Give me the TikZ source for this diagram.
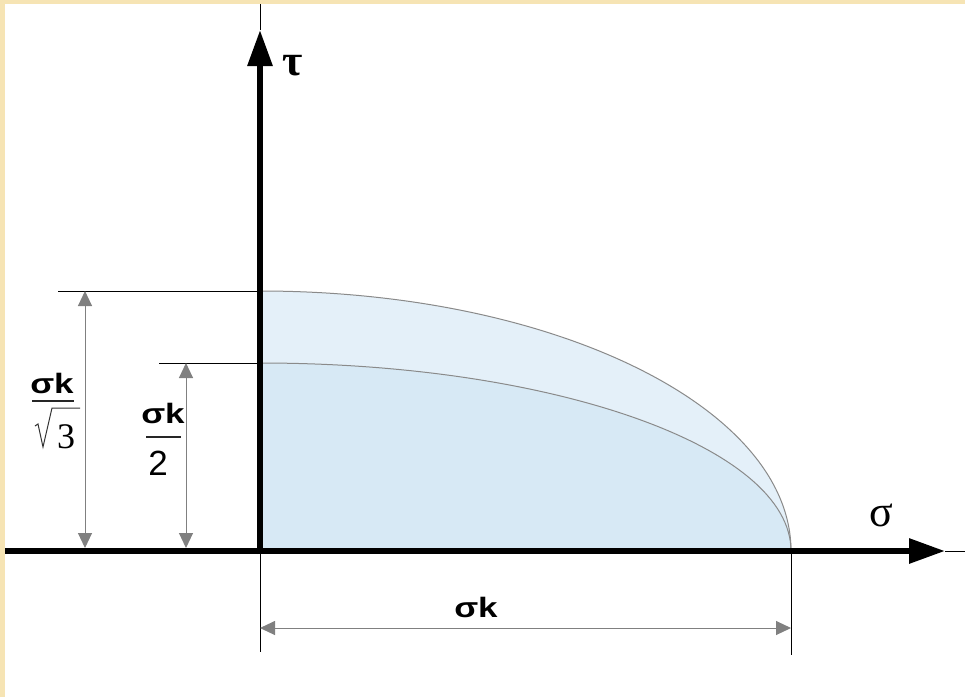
\documentclass[tikz,border=0pt]{standalone}
\usepackage{fontspec}
\setmainfont{Liberation Serif}
\newfontfamily\arialf{Liberation Sans}
\usetikzlibrary{arrows.meta}
\definecolor{parch}{HTML}{F6E4B4}
\definecolor{outerfill}{HTML}{E4F0F9}
\definecolor{innerfill}{HTML}{D7E9F5}
\definecolor{curvegray}{HTML}{8A8A8A}
\definecolor{dimgray}{HTML}{808080}
\newcommand{\skl}{\scalebox{1.25}[1]{\arialf\bfseries\fontsize{28}{28}\selectfont σk}}
\begin{document}
\begin{tikzpicture}[x=1pt,y=1pt,
  axisline/.style={line width=6pt,-{Triangle[length=36pt,width=24pt]}},
  thinline/.style={line width=0.9pt,black},
  extline/.style={line width=0.9pt,black},
  curveline/.style={line width=1pt,curvegray},
  dimarrow/.style={line width=1pt,dimgray,{Triangle[length=15pt,width=14pt]}-{Triangle[length=15pt,width=14pt]}},
  fracbar/.style={line width=1.3pt,black!85},
  lbl/.style={inner sep=0pt,outer sep=0pt}]
\useasboundingbox (0,0) rectangle (965,-697);
\fill[parch] (0,0) rectangle (965,-697);
\fill[white] (5,-4) rectangle (965,-697);
% coordinates
\coordinate (O) at (260,-551);
\coordinate (tauTop) at (260,-4);
\coordinate (tauTip) at (260,-30);
\coordinate (sigLeft) at (5,-551);
\coordinate (sigTip) at (945,-551);
\coordinate (sigEnd) at (965,-551);
\coordinate (A) at (791,-551);
\coordinate (B1) at (260,-291);
\coordinate (B2) at (260,-363);
% regions
\fill[outerfill] (O) -- (B1) arc[start angle=90,end angle=0,x radius=531,y radius=260] -- cycle;
\fill[innerfill] (O) -- (B2) arc[start angle=90,end angle=0,x radius=531,y radius=188] -- cycle;
\draw[curveline] (B1) arc[start angle=90,end angle=0,x radius=531,y radius=260];
\draw[curveline] (B2) arc[start angle=90,end angle=0,x radius=531,y radius=188];
% extension lines
\coordinate (E1) at (58,-291);
\coordinate (E2) at (159,-363);
\draw[extline] (E1) -- (B1);
\draw[extline] (E2) -- (B2);
\coordinate (F1) at (260,-652);
\coordinate (F2) at (791,-655);
\draw[extline] (O) -- (F1);
\draw[extline] (A) -- (F2);
% dimension arrows
\coordinate (D1t) at (85,-291);
\coordinate (D1b) at (85,-548);
\coordinate (D2t) at (186,-363);
\coordinate (D2b) at (186,-548);
\coordinate (D3l) at (260,-628);
\coordinate (D3r) at (791,-628);
\draw[dimarrow] (D1t) -- (D1b);
\draw[dimarrow] (D2t) -- (D2b);
\draw[dimarrow] (D3l) -- (D3r);
% axes
\draw[thinline] (tauTip) -- (tauTop);
\draw[thinline] (sigTip) -- (sigEnd);
\draw[axisline] ([yshift=-3pt]O) -- (tauTip);
\draw[axisline] (sigLeft) -- (sigTip);
% labels
\node[lbl] (tau) at (293,-66) {\bfseries\fontsize{44}{44}\selectfont τ};
\node[lbl] (sigma) at (881,-515) {\fontsize{44}{44}\selectfont σ};
\node[lbl,anchor=base] (sk3) at (476,-617) {\skl};
% sigma_k / sqrt3
\node[lbl,anchor=base] (skA) at (52,-393) {\skl};
\coordinate (barAl) at (32,-401);
\coordinate (barAr) at (74,-401);
\draw[fracbar] (barAl) -- (barAr);
\coordinate (r1) at (35,-426);
\coordinate (r2) at (38,-424);
\coordinate (r3) at (43,-447);
\coordinate (r4) at (52,-408);
\coordinate (r5) at (80,-408);
\draw[line width=1pt,black!80,line join=miter] (r1) -- (r2) -- (r3) -- (r4) -- (r5);
\node[lbl,anchor=base] (three) at (66,-448) {\fontsize{36}{36}\selectfont 3};
% sigma_k / 2
\node[lbl,anchor=base] (skB) at (163,-423) {\skl};
\coordinate (barBl) at (146,-437);
\coordinate (barBr) at (181,-437);
\draw[fracbar] (barBl) -- (barBr);
\node[lbl,anchor=base] (two) at (158,-475) {\arialf\fontsize{35}{35}\selectfont 2};
\end{tikzpicture}
\end{document}
